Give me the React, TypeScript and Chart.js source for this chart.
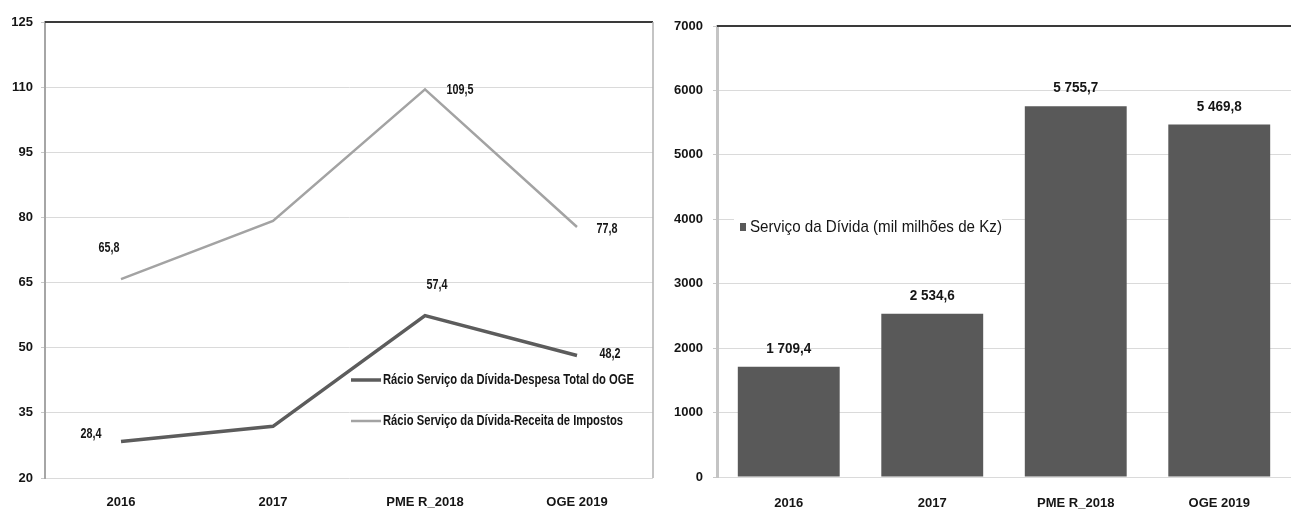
import React, { useEffect, useRef } from "react";
import { Chart, registerables } from "chart.js";

Chart.register(...registerables);

// ---------- data ----------
const categories = ["2016", "2017", "PME R_2018", "OGE 2019"];
const despesaRatio = [28.4, 31.9, 57.4, 48.2];
const receitaRatio = [65.8, 79.2, 109.5, 77.8];
const debtService = [1709.4, 2534.6, 5755.7, 5469.8];
const despesaLabel = "Rácio Serviço da Dívida-Despesa Total do OGE";
const receitaLabel = "Rácio Serviço da Dívida-Receita de Impostos";
const barLabel = "Serviço da Dívida (mil milhões de Kz)";
const lineAxisMin = 20;
const lineAxisMax = 125;
const lineAxisStep = 15;
const barAxisMin = 0;
const barAxisMax = 7000;
const barAxisStep = 1000;
const labelledPoints = [true, false, true, true];

// ---------- style ----------
const SANS = '"Liberation Sans", Arial, sans-serif';
const TEXT = "#151515";
const DARK_LINE = "#5c5c5c";
const LIGHT_LINE = "#a3a3a3";
const BAR = "#595959";
const GRID = "#dadada";
const receitaOffsets: Array<[number, number]> = [[-12, -31], [0, 0], [35, 1], [30, 2]];
const despesaOffsets: Array<[number, number]> = [[-30, -8], [0, 0], [12, -31], [33, -2]];

function fmt(v: number): string {
  const [i, d] = v.toFixed(1).split(".");
  return i.replace(/\B(?=(\d{3})+(?!\d))/g, " ") + "," + d;
}

// draw horizontally condensed text
function condensed(ctx: any, text: string, x: number, y: number, sx: number, align: string) {
  ctx.save();
  ctx.translate(x, y);
  ctx.scale(sx, 1);
  ctx.textAlign = align;
  ctx.fillText(text, 0, 0);
  ctx.restore();
}

const frame = (rightBorder: boolean) => ({
  id: "frame",
  afterDraw(chart: any) {
    const { ctx, chartArea } = chart;
    ctx.save();
    ctx.strokeStyle = "#3a3a3a";
    ctx.lineWidth = 2;
    ctx.beginPath();
    ctx.moveTo(chartArea.left, chartArea.top);
    ctx.lineTo(chartArea.right, chartArea.top);
    ctx.stroke();
    if (rightBorder) {
      ctx.strokeStyle = "#b0b0b0";
      ctx.lineWidth = 1.5;
      ctx.beginPath();
      ctx.moveTo(chartArea.right, chartArea.top);
      ctx.lineTo(chartArea.right, chartArea.bottom);
      ctx.stroke();
    }
    ctx.restore();
  },
});

const lineLabels = {
  id: "lineLabels",
  afterDatasetsDraw(chart: any) {
    const { ctx } = chart;
    ctx.save();
    ctx.font = `bold 15px ${SANS}`;
    ctx.fillStyle = TEXT;
    ctx.textBaseline = "middle";
    chart.data.datasets.forEach((ds: any, di: number) => {
      const meta = chart.getDatasetMeta(di);
      const offs = ds.labelOffsets as Array<[number, number]>;
      meta.data.forEach((pt: any, i: number) => {
        if (!labelledPoints[i]) return;
        condensed(ctx, fmt(ds.data[i]), pt.x + offs[i][0], pt.y + offs[i][1], 0.72, "center");
      });
    });
    ctx.restore();
  },
};

const lineLegend = {
  id: "lineLegend",
  afterDraw(chart: any) {
    const { ctx, chartArea } = chart;
    const x0 = chartArea.left + 306;
    ctx.save();
    ctx.font = `bold 14px ${SANS}`;
    ctx.fillStyle = TEXT;
    ctx.textBaseline = "middle";
    const sx = 251 / ctx.measureText(chart.data.datasets[0].label).width;
    chart.data.datasets.forEach((ds: any, di: number) => {
      const y = chartArea.top + 358 + di * 41;
      ctx.strokeStyle = ds.borderColor;
      ctx.lineWidth = ds.borderWidth;
      ctx.beginPath();
      ctx.moveTo(x0, y);
      ctx.lineTo(x0 + 30, y);
      ctx.stroke();
      condensed(ctx, ds.label, x0 + 32, y, sx, "left");
    });
    ctx.restore();
  },
};

const barLabels = {
  id: "barLabels",
  afterDatasetsDraw(chart: any) {
    const { ctx } = chart;
    const meta = chart.getDatasetMeta(0);
    const ds = chart.data.datasets[0];
    ctx.save();
    ctx.font = `bold 15px ${SANS}`;
    ctx.fillStyle = TEXT;
    ctx.textBaseline = "middle";
    meta.data.forEach((bar: any, i: number) => {
      condensed(ctx, fmt(ds.data[i]), bar.x, bar.y - 18, 0.9, "center");
    });
    ctx.restore();
  },
};

const barLegend = {
  id: "barLegend",
  afterDraw(chart: any) {
    const { ctx, chartArea } = chart;
    const x0 = chartArea.left + 23;
    const y = chartArea.top + 201;
    const label = chart.data.datasets[0].label;
    ctx.save();
    ctx.font = `17px ${SANS}`;
    const sx = 252 / ctx.measureText(label).width;
    ctx.fillStyle = "#ffffff";
    ctx.fillRect(x0 - 6, y - 11, 268, 22);
    ctx.fillStyle = BAR;
    ctx.fillRect(x0, y - 4, 6, 8);
    ctx.fillStyle = TEXT;
    ctx.textBaseline = "middle";
    condensed(ctx, label, x0 + 10, y, sx, "left");
    ctx.restore();
  },
};

const tickFont = { family: SANS, size: 13, weight: "bold" };

function lineConfig(): any {
  return {
    type: "line",
    data: {
      labels: categories,
      datasets: [
        {
          label: despesaLabel,
          data: despesaRatio,
          borderColor: DARK_LINE,
          borderWidth: 3.5,
          pointRadius: 0,
          tension: 0,
          labelOffsets: despesaOffsets,
        },
        {
          label: receitaLabel,
          data: receitaRatio,
          borderColor: LIGHT_LINE,
          borderWidth: 2.5,
          pointRadius: 0,
          tension: 0,
          labelOffsets: receitaOffsets,
        },
      ],
    },
    options: {
      responsive: false,
      animation: false,
      devicePixelRatio: 1,
      layout: { padding: { top: 22, right: 7, left: 0, bottom: 0 } },
      plugins: { legend: { display: false }, tooltip: { enabled: false } },
      scales: {
        x: {
          offset: true,
          grid: { display: false, drawTicks: false },
          border: { display: false },
          ticks: { autoSkip: false, maxRotation: 0, padding: 17, color: TEXT, font: tickFont },
          afterFit(s: any) {
            s.height = 31;
          },
        },
        y: {
          min: lineAxisMin,
          max: lineAxisMax,
          grid: { color: GRID, lineWidth: 1, tickLength: 4, tickColor: "#c8c8c8" },
          border: { color: "#a6a6a6", width: 2 },
          ticks: {
            stepSize: lineAxisStep,
            padding: 8,
            color: TEXT,
            font: tickFont,
            callback: (v: any) => String(v),
          },
          afterFit(s: any) {
            s.width = 45;
          },
        },
      },
    },
    plugins: [frame(true), lineLabels, lineLegend],
  };
}

function barConfig(): any {
  return {
    type: "bar",
    data: {
      labels: categories,
      datasets: [
        {
          label: barLabel,
          data: debtService,
          backgroundColor: BAR,
          categoryPercentage: 1,
          barPercentage: 0.71,
        },
      ],
    },
    options: {
      responsive: false,
      animation: false,
      devicePixelRatio: 1,
      layout: { padding: { top: 26, right: -4, left: 0, bottom: 0 } },
      plugins: { legend: { display: false }, tooltip: { enabled: false } },
      scales: {
        x: {
          grid: { display: false, drawTicks: false },
          border: { display: false },
          ticks: { autoSkip: false, maxRotation: 0, padding: 19, color: TEXT, font: tickFont },
          afterFit(s: any) {
            s.height = 32;
          },
        },
        y: {
          min: barAxisMin,
          max: barAxisMax,
          grid: { color: GRID, lineWidth: 1, tickLength: 4, tickColor: "#c8c8c8" },
          border: { color: "#c4c4c4", width: 3 },
          ticks: {
            stepSize: barAxisStep,
            padding: 10,
            color: TEXT,
            font: tickFont,
            callback: (v: any) => String(v),
          },
          afterFit(s: any) {
            s.width = 57;
          },
        },
      },
    },
    plugins: [frame(false), barLabels, barLegend],
  };
}

function ChartCanvas(props: { width: number; height: number; make: () => any }) {
  const ref = useRef<HTMLCanvasElement | null>(null);
  useEffect(() => {
    if (!ref.current) return;
    const chart = new Chart(ref.current, props.make());
    return () => chart.destroy();
  }, []);
  return (
    <canvas
      ref={ref}
      width={props.width}
      height={props.height}
      style={{ display: "block", width: props.width, height: props.height }}
    />
  );
}

export default function App() {
  return (
    <div
      style={{
        position: "fixed",
        left: 0,
        top: 0,
        width: 1291,
        height: 509,
        background: "#ffffff",
        display: "flex",
        overflow: "hidden",
      }}
    >
      <ChartCanvas width={660} height={509} make={lineConfig} />
      <ChartCanvas width={631} height={509} make={barConfig} />
    </div>
  );
}
